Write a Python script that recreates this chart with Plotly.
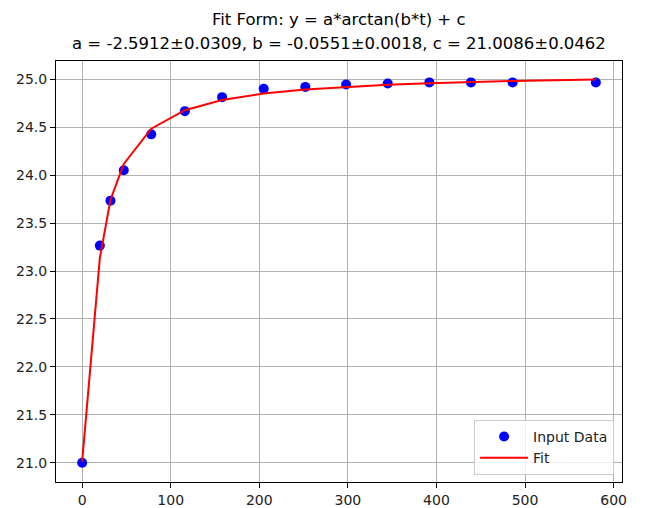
import plotly.graph_objects as go

# data
t_data = [0, 20, 32, 47, 78, 116, 158, 205, 252, 298, 345, 392, 439, 486, 580]
y_data = [21.00, 23.265, 23.734, 24.05, 24.425, 24.667, 24.813, 24.90, 24.92,
          24.945, 24.955, 24.967, 24.967, 24.967, 24.966]
y_fit = [21.009, 23.136, 23.742, 24.117, 24.484, 24.677, 24.783, 24.851, 24.892,
         24.921, 24.943, 24.959, 24.972, 24.982, 24.998]
x_ticks = [0, 100, 200, 300, 400, 500, 600]
y_ticks = [21.0, 21.5, 22.0, 22.5, 23.0, 23.5, 24.0, 24.5, 25.0]
title_1 = "Fit Form: y = a*arctan(b*t) + c"
title_2 = "a = -2.5912±0.0309, b = -0.0551±0.0018, c = 21.0086±0.0462"

FONT = "DejaVu Sans"

fig = go.Figure()
fig.add_trace(go.Scatter(x=t_data, y=y_data, mode="markers", name="Input Data",
                         marker=dict(color="blue", size=10, line=dict(width=0))))
fig.add_trace(go.Scatter(x=t_data, y=y_fit, mode="lines", name="Fit",
                         line=dict(color="red", width=2)))

axis_common = dict(showline=True, linecolor="black", linewidth=1, mirror=True,
                   ticks="outside", ticklen=5, tickcolor="black", tickwidth=1,
                   showgrid=True, gridcolor="#b0b0b0", gridwidth=1, zeroline=False,
                   automargin=False,
                   tickfont=dict(family=FONT, size=14, color="#222"))

fig.update_xaxes(range=[-29.5, 609.5], tickvals=x_ticks,
                 ticktext=[str(v) for v in x_ticks], **axis_common)
fig.update_yaxes(range=[20.80, 25.19], tickvals=y_ticks,
                 ticktext=[f"{v:.1f}" for v in y_ticks], **axis_common)

fig.add_annotation(text=title_1, xref="paper", yref="paper", x=0.5, y=1.0,
                   yshift=30, xanchor="center", yanchor="bottom", showarrow=False,
                   font=dict(family=FONT, size=16.5, color="black"))
fig.add_annotation(text=title_2, xref="paper", yref="paper", x=0.5, y=1.0,
                   yshift=6, xanchor="center", yanchor="bottom", showarrow=False,
                   font=dict(family=FONT, size=16.5, color="black"))

fig.update_layout(
    width=638, height=500,
    margin=dict(l=48, r=24, t=53, b=26, pad=0),
    paper_bgcolor="white", plot_bgcolor="white",
    showlegend=True,
    legend=dict(x=0.986, y=0.017, xanchor="right", yanchor="bottom",
                itemwidth=48,
                bgcolor="rgba(255,255,255,0.8)", bordercolor="#cccccc", borderwidth=1,
                font=dict(family=FONT, size=14, color="#222")),
    font=dict(family=FONT),
)

fig.write_html("out.html")
